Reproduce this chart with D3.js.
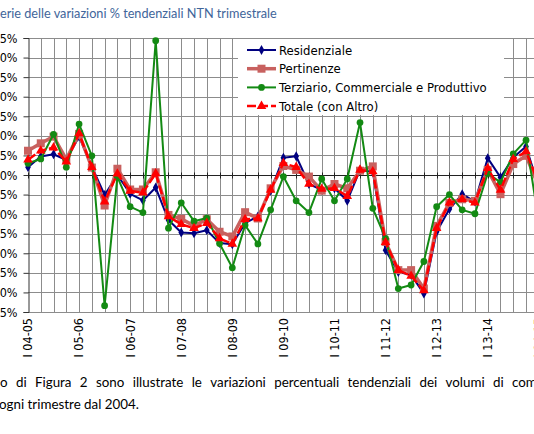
<!DOCTYPE html>
<html>
<head>
<meta charset="utf-8">
<script src="https://cdn.jsdelivr.net/npm/d3@7/dist/d3.min.js"></script>
<style>
  html, body { margin: 0; padding: 0; background: #fff; overflow: hidden; }
  svg { display: block; }
  .chart-text { font-family: "DejaVu Sans", sans-serif; font-stretch: condensed; }
</style>
</head>
<body>
<svg id="chart" width="534" height="434"></svg>
<script>
// quarters, labelled "I 04-05" = first quarter 2005 vs 2004
const categories = [
  'I 04-05', 'II 04-05', 'III 04-05', 'IV 04-05',
  'I 05-06', 'II 05-06', 'III 05-06', 'IV 05-06',
  'I 06-07', 'II 06-07', 'III 06-07', 'IV 06-07',
  'I 07-08', 'II 07-08', 'III 07-08', 'IV 07-08',
  'I 08-09', 'II 08-09', 'III 08-09', 'IV 08-09',
  'I 09-10', 'II 09-10', 'III 09-10', 'IV 09-10',
  'I 10-11', 'II 10-11', 'III 10-11', 'IV 10-11',
  'I 11-12', 'II 11-12', 'III 11-12', 'IV 11-12',
  'I 12-13', 'II 12-13', 'III 12-13', 'IV 12-13',
  'I 13-14', 'II 13-14', 'III 13-14', 'IV 13-14',
  'I 14-15'
];

// % changes
const residenziale = [
  2.0, 4.7, 5.3, 3.8, 9.8, 2.1, -5.1, 0.0, -4.8, -6.5,
  -3.2, -11.5, -14.7, -14.9, -14.1, -17.4, -17.7, -12.3, -10.6, -4.0,
  4.4, 4.8, -2.3, -3.8, -3.4, -6.6, 1.3, 0.8, -19.2, -24.8,
  -25.5, -30.3, -14.5, -8.7, -4.9, -6.8, 4.3, -0.6, 4.5, 7.3,
  -3.2
];
const pertinenze = [
  6.2, 8.1, 9.8, 4.0, 10.5, 1.9, -7.8, 1.6, -3.7, -3.7,
  0.7, -10.2, -11.2, -13.0, -11.3, -14.5, -15.7, -9.5, -11.1, -3.4,
  2.3, 1.3, -0.4, -4.0, -2.3, -3.4, 1.1, 2.2, -17.1, -24.3,
  -24.3, -29.0, -13.0, -7.1, -6.2, -6.6, 1.3, -4.9, 2.8, 4.9,
  -2.9
];
const terziario = [
  3.0, 4.1, 10.4, 2.0, 13.0, 4.9, -33.4, -0.5, -8.1, -9.6,
  34.3, -13.6, -7.1, -11.8, -11.0, -17.5, -23.7, -12.8, -17.6, -8.9,
  -0.4, -6.6, -9.6, -1.0, -6.6, -1.0, 13.4, -8.5, -16.2, -29.0,
  -28.1, -22.1, -8.1, -5.0, -8.9, -9.9, 0.4, -1.9, 5.4, 8.9,
  -12.0
];
const totale = [
  3.9, 6.2, 7.0, 3.4, 10.6, 2.0, -6.8, 0.3, -4.1, -4.5,
  0.4, -10.6, -12.6, -13.6, -12.3, -16.2, -17.6, -11.3, -11.1, -3.8,
  3.0, 2.0, -2.3, -3.6, -3.4, -5.4, 1.3, 0.9, -17.2, -24.3,
  -25.8, -29.5, -13.6, -7.1, -6.2, -7.1, 1.7, -3.8, 4.0, 6.0,
  -2.3
];

const seriesNames = [
  'Residenziale',
  'Pertinenze',
  'Terziario, Commerciale e Produttivo',
  'Totale (con Altro)'
];
const yTicks = [35, 30, 25, 20, 15, 10, 5, 0, -5, -10, -15, -20, -25, -30, -35];

const series = [
  { name: seriesNames[0], values: residenziale, color: '#000080', width: 2, marker: 'diamond', size: 28, dash: null },
  { name: seriesNames[1], values: pertinenze, color: '#C8615F', width: 3.5, marker: 'square', size: 64, dash: null },
  { name: seriesNames[2], values: terziario, color: '#138A13', width: 2, marker: 'circle', size: 36, dash: null },
  { name: seriesNames[3], values: totale, color: '#FF0000', width: 2.5, marker: 'triangle', size: 40, dash: '9,3' }
];

const symbolType = {
  diamond: d3.symbolDiamond,
  square: d3.symbolSquare,
  circle: d3.symbolCircle,
  triangle: d3.symbolTriangle
};

const svg = d3.select('#chart');
svg.append('rect').attr('width', 534).attr('height', 434).attr('fill', '#fff');

// plot area; the left part of the original picture is cut off
const plot = { left: 28, top: 38, bottom: 312, step: 12.77 };

const x = d3.scalePoint()
  .domain(categories)
  .range([plot.left, plot.left + plot.step * (categories.length - 1)]);

const y = d3.scaleLinear()
  .domain([-35, 35])
  .range([plot.bottom, plot.top]);

const pct = (v) => `${v}%`;

// grid
const grid = svg.append('g').attr('stroke', '#8c8c8c').attr('stroke-width', 1);
grid.selectAll('line.h')
  .data(yTicks)
  .join('line')
  .attr('class', 'h')
  .attr('x1', plot.left)
  .attr('x2', 540)
  .attr('y1', (d) => Math.round(y(d)) + 0.5)
  .attr('y2', (d) => Math.round(y(d)) + 0.5);
grid.selectAll('line.v')
  .data(categories.slice(1))
  .join('line')
  .attr('class', 'v')
  .attr('x1', (d) => Math.round(x(d)) + 0.5)
  .attr('x2', (d) => Math.round(x(d)) + 0.5)
  .attr('y1', plot.top)
  .attr('y2', plot.bottom);

// y axis
const yAxis = svg.append('g')
  .attr('class', 'chart-text')
  .attr('transform', `translate(${plot.left + 0.5},0)`)
  .call(d3.axisLeft(y).tickValues(yTicks).tickFormat(pct).tickSize(5).tickPadding(6));
yAxis.select('.domain').attr('stroke', '#333');
yAxis.selectAll('.tick line').attr('stroke', '#333');
yAxis.selectAll('.tick text').attr('font-size', 12.5).attr('fill', '#000')
  .style('font-family', '"DejaVu Sans", sans-serif').style('font-stretch', 'condensed');

// category axis crossing at 0
const xAxis = svg.append('g')
  .attr('transform', `translate(0,${Math.round(y(0)) + 0.5})`);
xAxis.append('line')
  .attr('x1', plot.left).attr('x2', 540)
  .attr('stroke', '#222').attr('stroke-width', 1.2);
xAxis.selectAll('line.tk')
  .data(categories)
  .join('line')
  .attr('class', 'tk')
  .attr('x1', (d) => Math.round(x(d)) + 0.5)
  .attr('x2', (d) => Math.round(x(d)) + 0.5)
  .attr('y1', -3).attr('y2', 3)
  .attr('stroke', '#222');

// category labels, low position, every 4th quarter
svg.append('g')
  .selectAll('text')
  .data(categories.filter((_, i) => i % 4 === 0))
  .join('text')
  .attr('class', 'chart-text')
  .attr('transform', (d) => `translate(${x(d)},${plot.bottom + 6}) rotate(-90)`)
  .attr('dy', '0.35em')
  .attr('text-anchor', 'end')
  .attr('font-size', 12.5)
  .text((d) => d);

// series
const line = d3.line()
  .x((d, i) => x(categories[i]))
  .y((d) => y(d));

const seriesGroups = svg.append('g')
  .selectAll('g')
  .data(series)
  .join('g');

seriesGroups.append('path')
  .attr('fill', 'none')
  .attr('stroke', (s) => s.color)
  .attr('stroke-width', (s) => s.width)
  .attr('stroke-dasharray', (s) => s.dash)
  .attr('stroke-linejoin', 'round')
  .attr('d', (s) => line(s.values));

seriesGroups.each(function (s) {
  d3.select(this)
    .selectAll('path.marker')
    .data(s.values)
    .join('path')
    .attr('class', 'marker')
    .attr('transform', (d, i) => `translate(${x(categories[i])},${y(d)})`)
    .attr('d', d3.symbol(symbolType[s.marker], s.size))
    .attr('fill', s.color);
});

// legend
const legend = svg.append('g');
legend.append('rect')
  .attr('x', 238).attr('y', plot.top + 1)
  .attr('width', 266).attr('height', 76)
  .attr('fill', '#fff');

const legendItems = legend.selectAll('g')
  .data(series)
  .join('g')
  .attr('transform', (s, i) => `translate(247,${50 + i * 18.7})`);

legendItems.append('line')
  .attr('x1', 0).attr('x2', 29)
  .attr('stroke', (s) => s.color)
  .attr('stroke-width', (s) => s.width)
  .attr('stroke-dasharray', (s) => s.dash);
legendItems.append('path')
  .attr('transform', 'translate(14.5,0)')
  .attr('d', (s) => d3.symbol(symbolType[s.marker], s.size)())
  .attr('fill', (s) => s.color);
legendItems.append('text')
  .attr('class', 'chart-text')
  .attr('x', 32)
  .attr('dy', '0.36em')
  .attr('font-size', 13)
  .text((s) => s.name);

// title, left edge cut off
function fitFontSize(sel, text, width) {
  sel.attr('font-size', 100).text(text);
  const size = 100 * width / sel.node().getComputedTextLength();
  return size;
}

const title = svg.append('text')
  .attr('y', 18)
  .attr('fill', '#41659A')
  .style('font-family', 'Lato, sans-serif');
const titleVisible = 'erie delle variazioni % tendenziali NTN trimestrale';
const titleSize = fitFontSize(title, titleVisible, 277);
title.attr('font-size', titleSize).text('S');
const sWidth = title.node().getComputedTextLength();
title.attr('x', -sWidth).text('S' + titleVisible);

// text below the figure
const captionLine2 = svg.append('text')
  .attr('y', 409)
  .attr('fill', '#000')
  .style('font-family', 'Lato, sans-serif');
const line2Text = 'ogni trimestre dal 2004.';
const captionSize = fitFontSize(captionLine2, line2Text, 140);
captionLine2.attr('font-size', captionSize).attr('x', -1).text(line2Text);

const line1Words = ['o', 'di', 'Figura', '2', 'sono', 'illustrate', 'le', 'variazioni',
  'percentuali', 'tendenziali', 'dei', 'volumi', 'di', 'compravendita'];
const captionLine1 = svg.append('text')
  .attr('y', 387)
  .attr('fill', '#000')
  .attr('font-size', captionSize)
  .style('font-family', 'Lato, sans-serif');
const wordWidths = line1Words.map((w) => {
  captionLine1.text(w);
  return captionLine1.node().getComputedTextLength();
});
captionLine1.text(null);
const lastStart = 512;
const gap = (lastStart - d3.sum(wordWidths.slice(0, -1))) / (line1Words.length - 1);
let cursor = 0;
line1Words.forEach((w, i) => {
  captionLine1.append('tspan').attr('x', cursor).text(w + (i < line1Words.length - 1 ? ' ' : ''));
  cursor += wordWidths[i] + gap;
});
</script>
</body>
</html>
